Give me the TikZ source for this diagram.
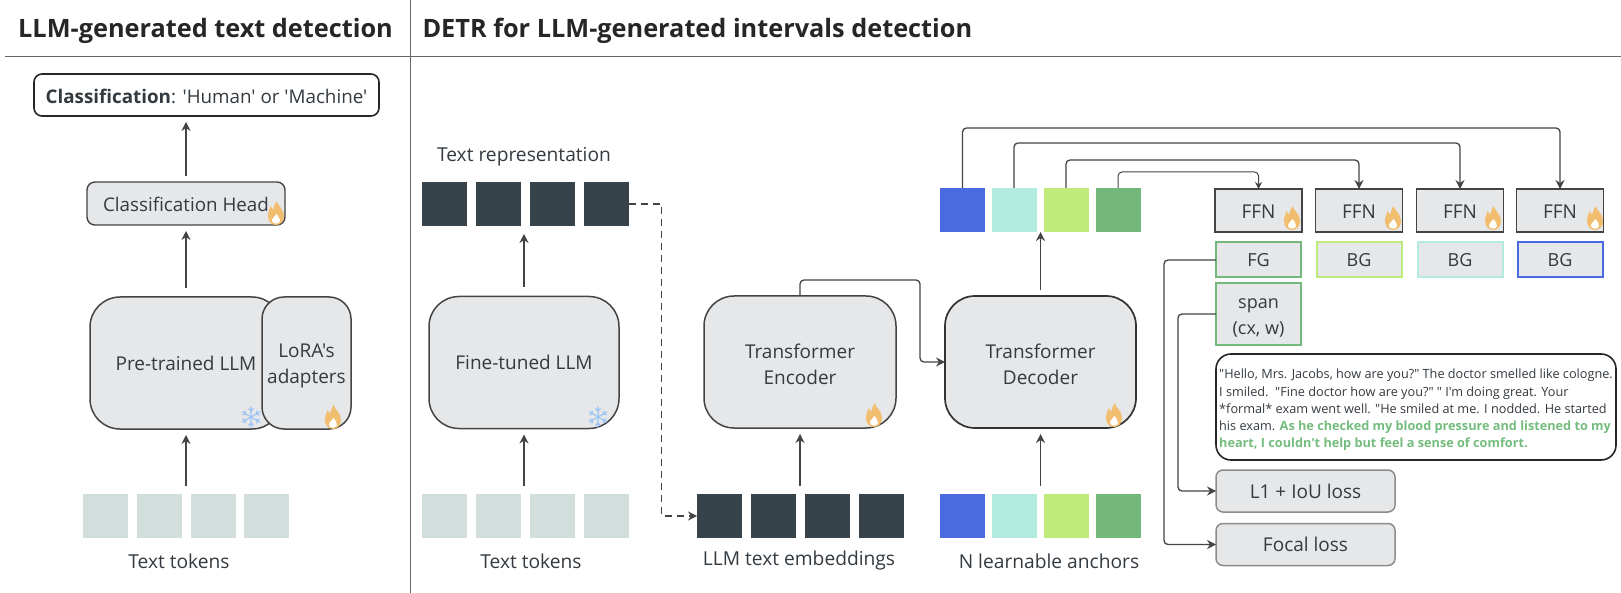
\documentclass[tikz,border=0pt]{standalone}
\usepackage{fontspec}
\usetikzlibrary{arrows.meta,calc}
\newfontfamily\opensans{Open Sans}
\newcommand{\fsz}[1]{\opensans\fontsize{#1}{#1}\selectfont}
\definecolor{boxfill}{HTML}{E6E7E9}
\definecolor{ink}{HTML}{333A40}
\definecolor{wire}{HTML}{444444}
\definecolor{darksq}{HTML}{37434B}
\definecolor{tok}{HTML}{D2DEDC}
\definecolor{cblue}{HTML}{4A6BE0}
\definecolor{cteal}{HTML}{B2EBDF}
\definecolor{clime}{HTML}{BEEB7A}
\definecolor{cgreen}{HTML}{74B77A}
\definecolor{ptext}{HTML}{74BD7E}
\definecolor{flameo}{HTML}{F0BE6E}
\definecolor{snow}{HTML}{9CC4F5}
\tikzset{
  base/.style={inner sep=0pt,outer sep=0pt,align=center,text=ink},
  bx/.style args={#1x#2}{base,minimum width=#1pt,minimum height=#2pt},
  drop/.style={execute at begin node={\rule{0pt}{#1em}}},
  big/.style={bx=#1,draw=wire,fill=boxfill,line width=1.5pt,rounded corners=30pt,font=\fsz{19}},
  two/.style n args={3}{label={[base,font=\fsz{#1},yshift=-#2pt]center:{#3}}},
  sq/.style={bx=45x44,fill=#1},
  ffn/.style={bx=87x43,draw=wire,fill=boxfill,line width=1.4pt,font=\fsz{19},drop=.82},
  tag/.style={bx=85x35,draw=#1,fill=boxfill,line width=2pt,font=\fsz{18}},
  lossb/.style={bx=179x42,draw=gray!90,fill=boxfill,line width=1.5pt,rounded corners=7pt,font=\fsz{19}},
  lab/.style={base,font=\fsz{19.2}},
  ttl/.style={base,font=\bfseries\fsz{25.3},text=black!85},
  arr/.style={draw=wire,line width=1.3pt,-{Stealth[length=9pt,width=9pt]}},
  elbow/.style={arr,rounded corners=4pt},
  rule/.style={draw=black!60,line width=1pt},
  flame/.pic={
    \begin{scope}[yscale=-1]
    \fill[flameo] (0.5,12) .. controls (2,7) and (8,4) .. (8,-3) .. controls (8,-9) and (4,-12) .. (0,-12)
      .. controls (-5,-12) and (-8,-8) .. (-8,-3) .. controls (-8,1) and (-6.5,3) .. (-5.5,7)
      .. controls (-4,5) and (-3.5,4) .. (-3,3) .. controls (-2,6) and (-1.5,9) .. (0.5,12) -- cycle;
    \fill[white] (0.5,-1) .. controls (2,-3.5) and (4.5,-5.5) .. (4,-8) .. controls (3.5,-11.5) and (-3.5,-11.5) .. (-4,-8)
      .. controls (-4.5,-5.5) and (-1,-3.5) .. (0.5,-1) -- cycle;
    \end{scope}
  },
  snowflake/.pic={
    \foreach \a in {30,90,150,210,270,330}{
      \draw[snow,line width=1.1pt,rotate=\a] (0,0) -- (10.5,0)
        (6,0) -- ++(45:3.5) (6,0) -- ++(-45:3.5);
    }
  }
}
\begin{document}
\begin{tikzpicture}[x=1pt,y=-1pt]
\useasboundingbox (0,0) rectangle (1621,593);
% titles and rules
\node[ttl,anchor=base] (t1) at (205.5,38) {LLM-generated text detection};
\node[ttl,anchor=base west] (t2) at (422.5,38) {DETR for LLM-generated intervals detection};
\coordinate (hl) at (5,56.5); \coordinate (hr) at (1621,56.5);
\coordinate (vt) at (410,0); \coordinate (vb) at (410,593);
\draw[rule] (hl) -- (hr);
\draw[rule] (vt) -- (vb);
% left panel
\node[bx=345x42,draw=black!85,fill=white,line width=1.6pt,rounded corners=8pt,font=\fsz{18.8},drop=.87] (cls) at (206.5,95) {\textbf{Classification}: 'Human' or 'Machine'};
\node[bx=198x43,draw=wire,fill=boxfill,line width=1.4pt,rounded corners=8pt,font=\fsz{18.8},drop=.87] (head) at (186,203.5) {Classification Head};
\node[big=192x132] (pre) at (186,363) {Pre-trained LLM};
\pic at (251,417) {snowflake};
\node[bx=89x132,draw=wire,fill=boxfill,line width=1.5pt,rounded corners=22pt,two={19}{3}{LoRA's\\[7pt]adapters}] (lora) at (306.5,363) {};
\foreach \n/\x in {a1/105.5,a2/159,a3/213,a4/266.5}{\node[sq=tok] (\n) at (\x,516) {};}
\node[lab] (lt1) at (179,561) {Text tokens};
% middle
\node[lab] (lrep) at (524,157) {Text representation};
\foreach \n/\x in {r1/444.5,r2/498.5,r3/552,r4/606}{\node[sq=darksq] (\n) at (\x,204) {};}
\node[big=190x132] (fine) at (524,362.5) {Fine-tuned LLM};
\pic at (598,417) {snowflake};
\foreach \n/\x in {b1/444.5,b2/498.5,b3/552,b4/606}{\node[sq=tok] (\n) at (\x,516) {};}
\node[lab] (lt2) at (531,561) {Text tokens};
\foreach \n/\x in {e1/719.5,e2/773.5,e3/827,e4/881}{\node[sq=darksq] (\n) at (\x,516) {};}
\node[lab] (lemb) at (799,561) {LLM text embeddings};
\node[big=192x132,two={19}{2}{Transformer\\[7pt]Encoder}] (enc) at (800,362) {};
\node[big=191x132,line width=1.7pt,draw=black!80,two={19}{2}{Transformer\\[7pt]Decoder}] (dec) at (1040.5,362) {};
% anchors
\foreach \n/\x/\c in {s1/962.5/cblue,s2/1014/cteal,s3/1066/clime,s4/1118/cgreen}{
  \node[sq=\c] (\n) at (\x,210) {};
  \node[sq=\c] (\n b) at (\x,516) {};
}
\node[lab] (lanc) at (1049,561) {N learnable anchors};
% FFN
\foreach \n/\x in {f1/1258.5,f2/1359,f3/1460,f4/1560}{\node[ffn] (\n) at (\x,210.5) {FFN};}
\node[tag=cgreen] (g1) at (1258.5,260) {FG};
\node[tag=clime] (g2) at (1359,260) {BG};
\node[tag=cteal] (g3) at (1460,260) {BG};
\node[tag=cblue] (g4) at (1560,260) {BG};
\node[bx=85x61,draw=cgreen,fill=boxfill,line width=2pt,two={18}{4.5}{span\\[8pt](cx, w)}] (span) at (1258.5,314) {};
% passage
\node[bx=400x106,draw=black!85,fill=white,line width=1.6pt,rounded corners=15pt,
  label={[base,align=left,yshift=-3pt,font=\opensans\fontsize{12.7}{17.3}\selectfont]center:{%
"Hello, Mrs. Jacobs, how are you?" The doctor smelled like cologne.\\
I smiled.\ \ "Fine doctor how are you?" " I'm doing great. Your\\
{*}formal* exam went well. "He smiled at me. I nodded. He started\\
his exam. \textcolor{ptext}{\textbf{As he checked my blood pressure and listened to my}}\\
\textcolor{ptext}{\textbf{heart, I couldn't help but feel a sense of comfort.}}}}] (pass) at (1416,407) {};
\node[lossb] (l1) at (1305.5,491) {L1 + IoU loss};
\node[lossb] (fo) at (1305.5,544.5) {Focal loss};
% flames
\foreach \p in {(276,213),(333,417),(874,415),(1114,415),(1292,218),(1393,218),(1493,218),(1595,218)}{\pic at \p {flame};}
% connectors
\draw[arr,shorten <=6pt,shorten >=6pt] (head.north) -- (head.north |- cls.south);
\draw[arr,shorten <=9pt,shorten >=6pt] (pre.north) -- (head.south);
\draw[arr,shorten <=8pt,shorten >=6pt] (pre.south |- a1.north) -- (pre.south);
\draw[arr,shorten <=9pt,shorten >=8pt] (fine.north) -- (fine.north |- r1.south);
\draw[arr,shorten <=8pt,shorten >=6pt] (fine.south |- b1.north) -- (fine.south);
\draw[arr,dash pattern=on 7pt off 5pt] (r4.east) -- ++(33,0) |- (e1.west);
\draw[arr,shorten <=8pt,shorten >=6pt] (enc.south |- e1.north) -- (enc.south);
\draw[arr,shorten <=8pt,shorten >=6pt] (dec.south |- s1b.north) -- (dec.south);
\draw[arr,shorten <=6pt] (dec.north) -- (dec.north |- s1.south);
\draw[elbow] (enc.north) -- ++(0,-16) -| ($(dec.west)+(-25,0)$) -- (dec.west);
\draw[elbow] (s1.north) -- ++(0,-60) -| (f4.north);
\draw[elbow] (s2.north) -- ++(0,-45) -| (f3.north);
\draw[elbow] (s3.north) -- ++(0,-28) -| (f2.north);
\draw[elbow,line width=1pt,-{Stealth[length=7pt,width=7pt]}] (s4.north) -- ++(0,-16) -| (f1.north);
\draw[elbow] (g1.west) -- ++(-52,0) |- (fo.west);
\draw[elbow] (span.west) -- ++(-38,0) |- (l1.west);
\end{tikzpicture}
\end{document}
